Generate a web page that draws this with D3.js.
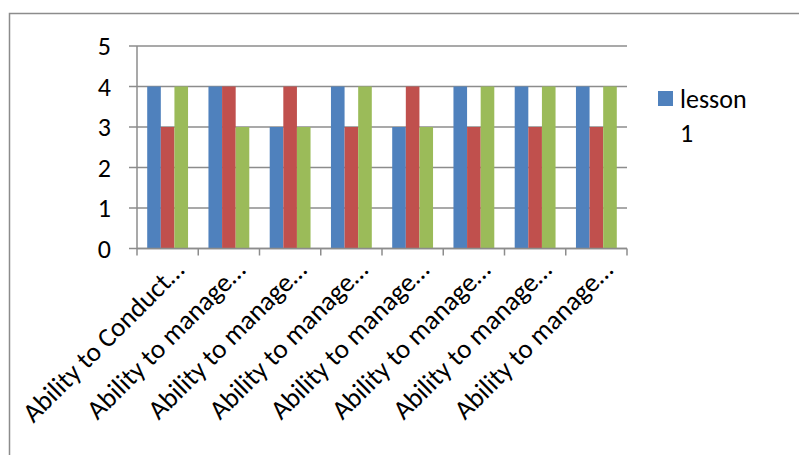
<!DOCTYPE html>
<html>
<head>
<meta charset="utf-8">
<script src="https://cdn.jsdelivr.net/npm/d3@7/dist/d3.min.js"></script>
<style>
  html, body { margin: 0; padding: 0; background: #fff; }
  svg { display: block; font-family: Carlito, Lato, "Open Sans", sans-serif; }
</style>
</head>
<body>
<svg id="chart" width="799" height="455"></svg>
<script>
// Categories and scores per series
const categories = [
  "Ability to Conduct…", "Ability to manage…", "Ability to manage…", "Ability to manage…",
  "Ability to manage…", "Ability to manage…", "Ability to manage…", "Ability to manage…"
];
const seriesNames = ["lesson 1", "lesson 2", "lesson 3"];
const lesson1 = [4, 4, 3, 4, 3, 4, 4, 4];
const lesson2 = [3, 4, 4, 3, 4, 3, 3, 3];
const lesson3 = [4, 3, 3, 4, 3, 4, 4, 4];
const yTicks = [0, 1, 2, 3, 4, 5];
const colors = ["#4F81BD", "#C0504D", "#9BBB59"];

const series = [lesson1, lesson2, lesson3];
const svg = d3.select("#chart");

// Outer chart frame
svg.append("rect")
  .attr("x", 9.5).attr("y", 13.5)
  .attr("width", 820).attr("height", 480)
  .attr("fill", "none").attr("stroke", "#8c8c8c").attr("stroke-width", 1.5);

const plot = { left: 137, right: 627, top: 46, bottom: 248.5 };

const x = d3.scaleBand().domain(d3.range(categories.length))
  .range([plot.left, plot.right]).paddingInner(0).paddingOuter(0);
const bw = x.bandwidth() / 4.5;
const xs = d3.scaleBand().domain(d3.range(series.length))
  .range([0.75 * bw, 3.75 * bw]);
const y = d3.scaleLinear().domain([0, 5]).range([plot.bottom, plot.top]);

// Horizontal gridlines with ticks extending left of the axis
svg.append("g").selectAll("line").data(yTicks).join("line")
  .attr("x1", plot.left - 8).attr("x2", plot.right)
  .attr("y1", d => y(d)).attr("y2", d => y(d))
  .attr("stroke", "#8c8c8c").attr("stroke-width", 1.5);

// Y tick labels
svg.append("g").selectAll("text").data(yTicks).join("text")
  .attr("x", 111).attr("y", d => y(d))
  .attr("dy", "0.35em")
  .attr("text-anchor", "end")
  .attr("font-size", 26)
  .attr("fill", "#000")
  .text(d => d);

// Bars
const groups = svg.append("g").selectAll("g").data(series).join("g")
  .attr("fill", (d, i) => colors[i]);
groups.each(function(vals, si) {
  d3.select(this).selectAll("rect").data(vals).join("rect")
    .attr("x", (v, ci) => x(ci) + xs(si))
    .attr("width", xs.bandwidth())
    .attr("y", v => y(v))
    .attr("height", v => y(0) - y(v));
});

// Value axis line
svg.append("line")
  .attr("x1", plot.left).attr("x2", plot.left)
  .attr("y1", plot.top).attr("y2", plot.bottom)
  .attr("stroke", "#8c8c8c").attr("stroke-width", 1.5);

// Category axis line and tick marks
svg.append("line")
  .attr("x1", plot.left).attr("x2", plot.right)
  .attr("y1", plot.bottom).attr("y2", plot.bottom)
  .attr("stroke", "#8c8c8c").attr("stroke-width", 1.5);
svg.append("g").selectAll("line").data(d3.range(categories.length + 1)).join("line")
  .attr("x1", i => plot.left + i * x.step()).attr("x2", i => plot.left + i * x.step())
  .attr("y1", plot.bottom).attr("y2", plot.bottom + 7)
  .attr("stroke", "#8c8c8c").attr("stroke-width", 1.5);

// Rotated category labels
svg.append("g").selectAll("text").data(categories).join("text")
  .attr("transform", (d, i) => `translate(${x(i) + x.bandwidth() / 2 + 18},${plot.bottom + 23}) rotate(-45)`)
  .attr("text-anchor", "end")
  .attr("font-size", 27)
  .attr("fill", "#000")
  .text(d => d);

// Legend (first series only)
const lg = svg.append("g").attr("transform", "translate(658,91)");
lg.append("rect").attr("width", 15).attr("height", 15).attr("fill", colors[0]);
lg.append("text").attr("x", 22).attr("y", 17).attr("font-size", 26).attr("fill", "#000").text("lesson");
lg.append("text").attr("x", 22).attr("y", 51).attr("font-size", 26).attr("fill", "#000").text("1");
</script>
</body>
</html>
